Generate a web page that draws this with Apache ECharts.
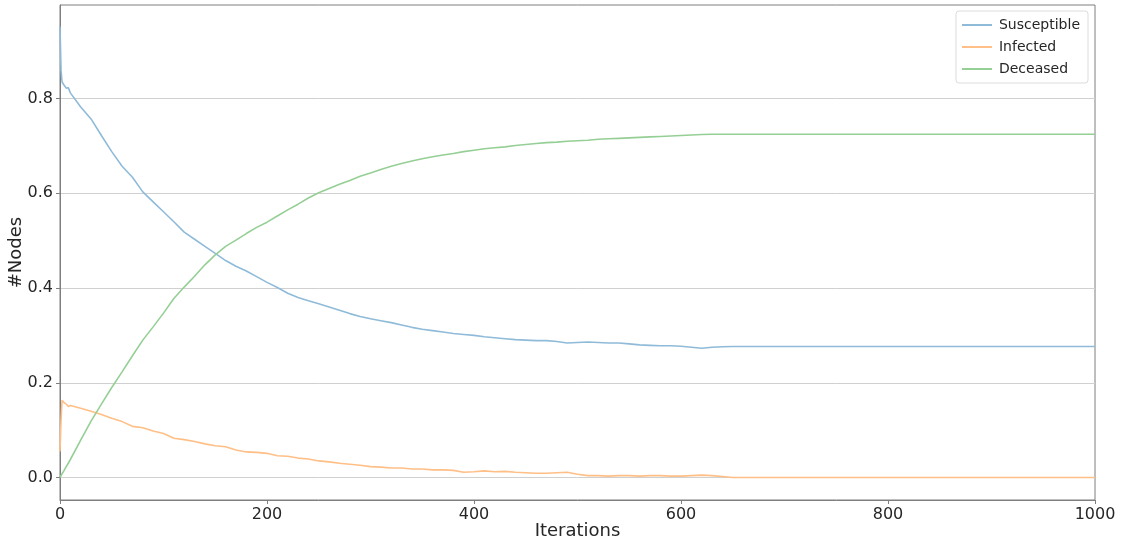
<!DOCTYPE html>
<html>
<head>
<meta charset="utf-8">
<script src="https://cdn.jsdelivr.net/npm/echarts@6/dist/echarts.min.js"></script>
<style>html,body{margin:0;padding:0;background:#fff;}#c{width:1121px;height:547px;}</style>
</head>
<body>
<div id="c"></div>
<script>
const iterations = [0,1,2,4,6,8,10,20,30,40,50,60,70,80,90,100,110,120,130,140,150,160,170,180,190,200,210,220,230,240,250,260,270,280,290,300,310,320,330,340,350,360,370,380,390,400,410,420,430,440,450,460,470,480,490,500,510,520,530,540,550,560,570,580,590,600,610,620,630,640,650,700,800,900,1000];
const susceptible = [0.952,0.86,0.835,0.828,0.822,0.823,0.812,0.782,0.757,0.722,0.688,0.657,0.634,0.603,0.582,0.561,0.540,0.518,0.503,0.488,0.473,0.458,0.446,0.436,0.424,0.412,0.401,0.389,0.380,0.373,0.367,0.360,0.353,0.346,0.340,0.335,0.331,0.327,0.322,0.317,0.313,0.310,0.307,0.304,0.302,0.300,0.297,0.295,0.293,0.291,0.290,0.289,0.289,0.287,0.284,0.285,0.286,0.285,0.284,0.284,0.282,0.280,0.279,0.278,0.278,0.277,0.275,0.273,0.275,0.276,0.2765,0.2765,0.2765,0.2765,0.2765];
const infected = [0.055,0.12,0.163,0.158,0.155,0.150,0.152,0.146,0.140,0.133,0.125,0.118,0.108,0.105,0.098,0.093,0.083,0.080,0.076,0.071,0.067,0.065,0.058,0.054,0.053,0.051,0.046,0.045,0.041,0.039,0.035,0.033,0.030,0.028,0.026,0.023,0.022,0.020,0.020,0.018,0.018,0.016,0.016,0.015,0.011,0.012,0.014,0.012,0.013,0.011,0.010,0.009,0.009,0.010,0.011,0.007,0.004,0.004,0.003,0.004,0.004,0.003,0.004,0.004,0.003,0.003,0.004,0.005,0.004,0.002,0,0,0,0,0];
const deceased = [0,0.004,0.008,0.015,0.023,0.030,0.038,0.079,0.119,0.155,0.190,0.223,0.257,0.290,0.318,0.347,0.378,0.402,0.425,0.449,0.470,0.488,0.501,0.515,0.528,0.539,0.552,0.565,0.577,0.590,0.601,0.610,0.619,0.627,0.636,0.643,0.650,0.657,0.663,0.668,0.673,0.677,0.681,0.684,0.688,0.691,0.694,0.696,0.698,0.701,0.703,0.705,0.707,0.708,0.710,0.711,0.712,0.714,0.715,0.716,0.717,0.718,0.719,0.720,0.721,0.722,0.723,0.724,0.7245,0.7245,0.7245,0.7245,0.7245,0.7245,0.7245];
const yTicks = [0, 0.2, 0.4, 0.6, 0.8];
const seriesNames = ['Susceptible','Infected','Deceased'];

const colors = ['#8fbbd9','#ffbf86','#95cf95'];
const font = 'DejaVu Sans';
const chart = echarts.init(document.getElementById('c'), null, {renderer:'canvas'});
function pairs(vals){ return iterations.map((x,i)=>[x, vals[i]]); }
const allVals = [susceptible, infected, deceased];
chart.setOption({
  animation: false,
  backgroundColor: '#fff',
  grid: {left: 60, right: 26, top: 5, bottom: 47, show: true, borderColor: '#7f7f7f', borderWidth: 1,
         containLabel: false, outerBoundsMode: 'none'},
  legend: {
    orient: 'vertical', right: 33, top: 11,
    icon: 'rect', itemWidth: 30, itemHeight: 2, itemGap: 8,
    padding: [7, 8, 7, 6],
    borderColor: '#dcdcdc', borderWidth: 1, borderRadius: 3,
    textStyle: {fontFamily: font, fontSize: 14, color: '#262626', padding: [0,0,0,2]},
    data: seriesNames
  },
  xAxis: {
    type: 'value', min: 0, max: 1000, interval: 200,
    name: 'Iterations', nameLocation: 'middle', nameGap: 22, nameMoveOverlap: false,
    nameTextStyle: {fontFamily: font, fontSize: 18, color: '#262626'},
    axisLine: {show: true, onZero: false, lineStyle: {color: '#7f7f7f', width: 1}},
    axisTick: {show: true, inside: false, length: 4, lineStyle: {color: '#7f7f7f'}},
    axisLabel: {fontFamily: font, fontSize: 16, color: '#262626', margin: 7, formatter: v => String(v)},
    splitLine: {show: false}
  },
  yAxis: {
    type: 'value', min: -0.0475, max: 0.9975,
    name: '#Nodes', nameLocation: 'middle', nameGap: 35, nameRotate: 90, nameMoveOverlap: false,
    nameTextStyle: {fontFamily: font, fontSize: 18, color: '#262626'},
    axisLine: {show: true, onZero: false, lineStyle: {color: '#7f7f7f', width: 1}},
    axisTick: {show: true, length: 4, lineStyle: {color: '#7f7f7f'}, customValues: yTicks},
    axisLabel: {fontFamily: font, fontSize: 16, color: '#262626', margin: 7, customValues: yTicks,
      formatter: v => v.toFixed(1)},
    splitLine: {show: true, lineStyle: {color: '#d0d0d0', width: 1}}
  },
  series: seriesNames.map((n, k) => ({
    name: n, type: 'line', data: pairs(allVals[k]),
    symbol: 'none', showSymbol: false,
    lineStyle: {color: colors[k], width: 1.6},
    itemStyle: {color: colors[k]}
  }))
});
</script>
</body>
</html>
